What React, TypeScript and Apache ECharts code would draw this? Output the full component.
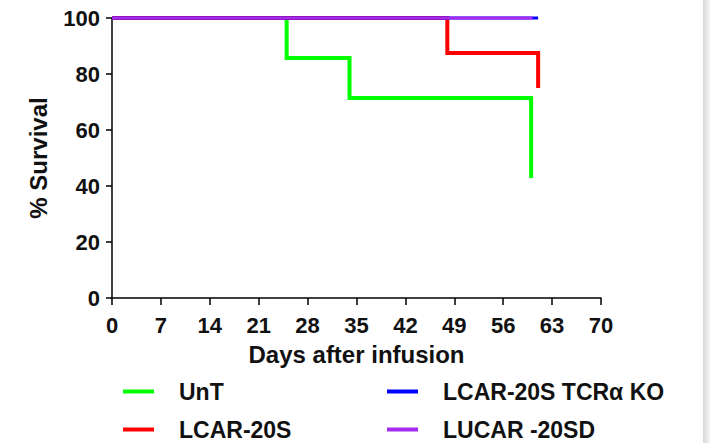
import React, { useEffect, useRef } from "react";
import * as echarts from "echarts";

const seriesNames = ["UnT", "LCAR-20S", "LCAR-20S TCRα KO", "LUCAR -20SD"];
const seriesColors = ["#00ff00", "#ff0000", "#0000ff", "#a32cf0"];
const seriesWidths = [4, 4, 3, 3];
// event times (days) and survival (%) after each event
const untDays = [0, 25, 34, 60];
const untSurv = [100, 85.7, 71.4, 42.9];
const lcarDays = [0, 48, 61];
const lcarSurv = [100, 87.5, 75];
const tcrDays = [0, 61];
const tcrSurv = [100, 100];
const lucarDays = [0, 60.2];
const lucarSurv = [100, 100];
const xTicks = [0, 7, 14, 21, 28, 35, 42, 49, 56, 63, 70];
const yTicks = [0, 20, 40, 60, 80, 100];

const FONT = "Arial, 'Liberation Sans', sans-serif";
const legendPos = [
  { left: 123, top: 380 },
  { left: 123, top: 418 },
  { left: 387, top: 380 },
  { left: 387, top: 418 },
];

export default function App() {
  const ref = useRef<HTMLDivElement>(null);
  useEffect(() => {
    const chart = echarts.init(ref.current!, undefined, { renderer: "svg" });
    const dayArrs = [untDays, lcarDays, tcrDays, lucarDays];
    const survArrs = [untSurv, lcarSurv, tcrSurv, lucarSurv];
    const series = [0, 1, 2, 3].map((i) => ({
      name: seriesNames[i],
      type: "line",
      step: "end",
      showSymbol: false,
      symbol: "none",
      clip: false,
      data: dayArrs[i].map((d, k) => [d, survArrs[i][k]]),
      lineStyle: { color: seriesColors[i], width: seriesWidths[i], cap: "butt", join: "miter" },
      itemStyle: { color: seriesColors[i] },
      z: 3 + i,
    }));
    const legends = seriesNames.map((n, i) => ({
      data: [n],
      left: legendPos[i].left,
      top: legendPos[i].top,
      padding: 0,
      icon: "rect",
      itemWidth: 31,
      itemHeight: 4,
      selectedMode: false,
      textStyle: {
        fontFamily: FONT,
        fontWeight: "bold",
        fontSize: 23,
        lineHeight: 23,
        color: "#111",
        padding: [0, 0, 0, 20],
      },
    }));
    chart.setOption({
      animation: false,
      backgroundColor: "#ffffff",
      grid: { left: 112, top: 18, right: 109, bottom: 145, containLabel: false },
      xAxis: {
        type: "value",
        min: 0,
        max: 70,
        interval: 7,
        name: "Days after infusion",
        nameLocation: "middle",
        nameGap: 44,
        nameTextStyle: { fontFamily: FONT, fontWeight: "bold", fontSize: 24, color: "#111" },
        axisLine: { show: true, lineStyle: { color: "#000", width: 1.5 } },
        axisTick: { show: true, length: 7, lineStyle: { color: "#000", width: 1.5 } },
        axisLabel: {
          margin: 16,
          fontFamily: FONT,
          fontWeight: "bold",
          fontSize: 22,
          color: "#111",
          formatter: (v: number) => (xTicks.includes(v) ? String(v) : ""),
        },
        splitLine: { show: false },
      },
      yAxis: {
        type: "value",
        min: 0,
        max: 100,
        interval: 20,
        name: "% Survival",
        nameLocation: "middle",
        nameRotate: 90,
        nameGap: 62,
        nameTextStyle: { fontFamily: FONT, fontWeight: "bold", fontSize: 24, color: "#111" },
        axisLine: { show: true, lineStyle: { color: "#000", width: 1.5 } },
        axisTick: { show: true, length: 6, lineStyle: { color: "#000", width: 1.5 } },
        axisLabel: {
          margin: 12,
          fontFamily: FONT,
          fontWeight: "bold",
          fontSize: 22,
          color: "#111",
          formatter: (v: number) => (yTicks.includes(v) ? String(v) : ""),
        },
        splitLine: { show: false },
      },
      legend: legends,
      graphic: [
        {
          type: "rect",
          shape: { x: 703, y: 0, width: 7, height: 443 },
          style: {
            fill: new echarts.graphic.LinearGradient(0, 0, 1, 0, [
              { offset: 0, color: "#d8d8d8" },
              { offset: 1, color: "#f4f4f4" },
            ]),
          },
          silent: true,
        },
      ],
      series,
    });
    return () => chart.dispose();
  }, []);
  return <div ref={ref} style={{ width: 710, height: 443, position: "absolute", left: 0, top: 0 }} />;
}
